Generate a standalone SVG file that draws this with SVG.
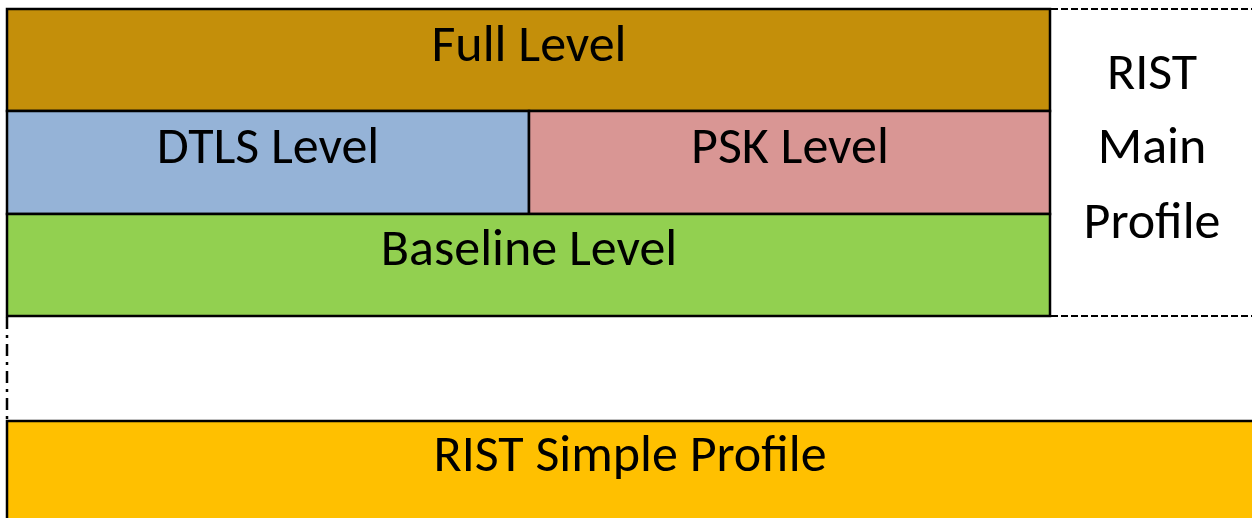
<svg xmlns="http://www.w3.org/2000/svg" width="1252" height="518" viewBox="0 0 1252 518">
<style>
.box{stroke:#000;stroke-width:2.5}
.t{font-family:Carlito,"Open Sans","Liberation Sans",sans-serif;font-size:52px;fill:#000;text-anchor:middle}
.dash{stroke:#000;stroke-width:2;fill:none;stroke-dasharray:7 3}
</style>
<rect width="1252" height="518" fill="#fff"/>
<g id="connectors">
<line class="dash" x1="1051" y1="9" x2="1252" y2="9"/>
<line class="dash" x1="1051" y1="316" x2="1252" y2="316"/>
<line x1="7" y1="317" x2="7" y2="421" stroke="#000" stroke-width="2.5" stroke-dasharray="12 6 3 6"/>
</g>
<g id="full"><rect class="box" x="7" y="9" width="1043" height="102" fill="#C48F0A"/><text class="t" x="529" y="61">Full Level</text></g>
<g id="dtls"><rect class="box" x="7" y="111" width="522" height="103" fill="#95B3D7"/><text class="t" x="268" y="163">DTLS Level</text></g>
<g id="psk"><rect class="box" x="529" y="111" width="521" height="103" fill="#D99694"/><text class="t" x="790" y="163">PSK Level</text></g>
<g id="baseline"><rect class="box" x="7" y="214" width="1043" height="102" fill="#92D050"/><text class="t" x="529" y="265">Baseline Level</text></g>
<g id="main"><text class="t" x="1152" y="89">RIST</text><text class="t" x="1152" y="163">Main</text><text class="t" x="1152" y="238">Profile</text></g>
<g id="simple"><rect class="box" x="7" y="421" width="1260" height="110" fill="#FFC000"/><text class="t" x="630" y="471">RIST Simple Profile</text></g>
</svg>
